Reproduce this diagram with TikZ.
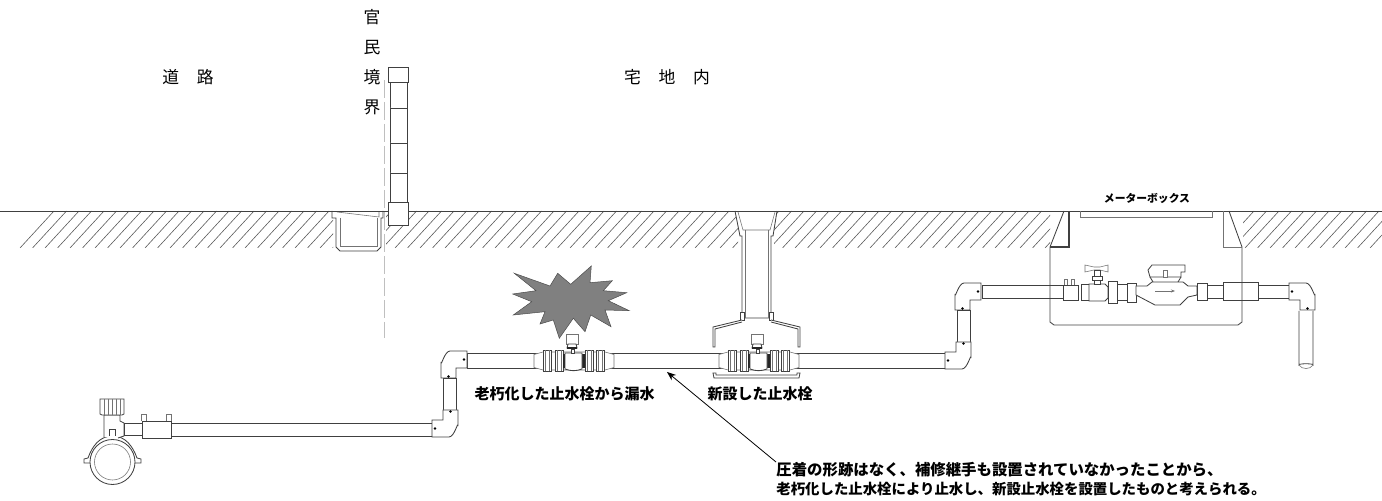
\documentclass[tikz,border=0pt]{standalone}
\usepackage{fontspec}
\setmainfont{Noto Sans CJK JP}
\usepackage{tikz}
\usetikzlibrary{arrows.meta}

\tikzset{
    pipeline/.style={draw=black!75, line width=0.42pt, fill=white},
    thinline/.style={draw=black!55, line width=0.28pt, fill=white},
    hatchline/.style={draw=black!65, line width=0.3pt},
    placelabel/.style={font=\fontsize{8.4}{15}\selectfont, align=center, inner sep=0pt},
    partlabel/.style={font=\fontsize{7.5}{9.5}\selectfont\bfseries, inner sep=0pt},
    elbow/.pic={
        \draw[pipeline] (26,0) -- (9,0) to[out=180,in=-90] (0,11) -- (0,27) -- (15,27) -- (15,17) -- (26,17) -- cycle;
        \fill (23,8.5) circle (1.3);
        \fill (7.5,25.5) circle (1.3);
    },
    stopvalve/.pic={
        % tapered ends and nuts
        \draw[thinline] (-40,-6.5) -- (-31,-9) -- (31,-9) -- (40,-6.5) -- (40,6.5) -- (31,9) -- (-31,9) -- (-40,6.5) -- cycle;
        \foreach \nx in {-31,-19,11,22} {
            \draw[pipeline] (\nx,-10.5) rectangle ++(8,21);
            \draw[thinline] (\nx+2.2,-10.5) -- ++(0,21) (\nx+5.8,-10.5) -- ++(0,21);
        }
        \fill[black!85] (-11,-7) rectangle (-9,7);
        \fill[black!85] (8,-7) rectangle (10.5,7);
        % body
        \draw[pipeline] (-9,-8) -- (8,-8) -- (8,8) to[out=-160,in=-20] (-9,8) -- cycle;
        % head
        \draw[thinline] (-8,-27) rectangle (4,-17);
        \draw[pipeline] (-6,-17) -- (2,-17) -- (3,-13) -- (-7,-13) -- cycle;
        \fill[black!85] (-7,-14) rectangle (3,-12);
        \draw[pipeline] (-3,-12) rectangle (0,-8);
    }
}

\begin{document}
\begin{tikzpicture}[x=0.5pt, y=-0.5pt]
    \useasboundingbox (0,0) rectangle (1382,501);

    % Ground hatching
    \begin{scope}
        \clip (0,211) rectangle (333,248) (386,211) rectangle (738,248)
              (774,211) rectangle (1050,248) (1243,211) rectangle (1382,248);
        \foreach \hx in {20,32.5,...,1382} {
            \draw[hatchline] (\hx,248) -- (\hx+34,211);
        }
    \end{scope}

    % Gutter
    \draw[pipeline] (332,211) -- (332,218) -- (336,218) -- (336,247) -- (340,251) -- (377,251) -- (381,247) -- (381,218) -- (383,218) -- (383,211);
    \draw[thinline] (340,218) -- (340,246) -- (377,246) -- (377,218);
    \draw[thinline] (337,212) -- (379,217) -- (379,212);

    % Valve box shaft
    \draw[pipeline] (735,211) -- (740,236) -- (742,236) -- (742,318) -- (771,318) -- (771,236) -- (773,236) -- (777,211);
    \draw[thinline] (738,212) -- (743,230) -- (770,230) -- (775,212);
    \draw[thinline] (745,230) -- (745,318) (768,230) -- (768,318);
    \draw[pipeline] (740,312) rectangle (744,320);
    \draw[pipeline] (769,312) rectangle (773,320);
    \draw[pipeline] (742,320) -- (713,327) -- (713,347) -- (715,347) -- (715,329) -- (742,322);
    \draw[pipeline] (771,320) -- (800,327) -- (800,347) -- (798,347) -- (798,329) -- (771,322);

    % Ground line
    \draw[pipeline] (0,211) -- (1382,211);

    % Boundary line and post
    \draw[draw=black!25, line width=0.35pt, dash pattern=on 9pt off 2pt] (384,80) -- (384,338);
    \draw[pipeline] (390,82) rectangle (407,202);
    \foreach \py in {108,143,173} {
        \draw[pipeline] (390,\py) -- (407,\py);
    }
    \draw[pipeline] (388,67) rectangle (408,82);
    \draw[pipeline] (388,202) rectangle (408,225);

    % Service pipe
    \draw[pipeline] (170,423) rectangle (432,436);
    \draw[pipeline] (443,378) rectangle (456,410);
    \draw[pipeline] (467,353) rectangle (945,368);
    \draw[pipeline] (957,310) rectangle (970,342);
    \draw[pipeline] (982,285) rectangle (1063,298);
    \draw[pipeline] (1207,285) rectangle (1290,298);

    % Elbows
    \pic at (441,351) {elbow};
    \pic[rotate=180] at (458,437) {elbow};
    \pic at (955,283) {elbow};
    \pic[rotate=180] at (971,369) {elbow};
    \pic[xscale=-1] at (1315,283) {elbow};

    % Outlet stub
    \draw[pipeline] (1299,311) -- (1299,365) to[out=90,in=90,looseness=0.3] (1313,365) -- (1313,311);
    \draw[thinline] (1299,365) to[out=-60,in=-120] (1313,365);
    \draw[pipeline] (1223,282) rectangle (1258,300);

    % Meter box
    \draw[pipeline, fill=none] (1064,211) -- (1050,247) -- (1050,322) -- (1054,325) -- (1238,325) -- (1242,322) -- (1242,247) -- (1229,211);
    \draw[pipeline, fill=none, line width=0.6pt] (1069,211) -- (1069,247) -- (1050,247);
    \draw[thinline, fill=none] (1223,211) -- (1223,247) -- (1242,247);
    \draw[thinline, fill=none] (1080,211) -- (1080,217) -- (1212,217) -- (1212,211);

    % Stop valves
    \pic at (574,361) {stopvalve};
    \pic at (759,361) {stopvalve};
    \draw[pipeline] (713,373) -- (714,378) -- (799,378) -- (800,373) -- (797,373) -- (797,375) -- (716,375) -- (716,373) -- cycle;

    % Leak burst
    \fill[draw=black!70, fill=black!50, line width=0.25pt] (514.3,273.3) -- (550,286) -- (557.7,273.3) -- (570.7,284.3) -- (591.3,266) -- (590,282.7) -- (612.3,280.7) -- (603.3,290.7) -- (626.7,292.7) -- (608.3,300.7) -- (629.3,310.7) -- (605,310) -- (611,326.7) -- (590.7,315) -- (585,331.7) -- (573.3,318.3) -- (559.3,338.3) -- (553.3,320) -- (540,324) -- (545,311.7) -- (513.3,315) -- (531.7,301.7) -- (512.7,294) -- (536,290.7) -- cycle;

    % Saddle
    \draw[pipeline] (84,463) -- (84,459) -- (88,458) to[out=70,in=180] (112.5,436) to[out=0,in=110] (137,458) -- (141,459) -- (141,463) -- (134,463) to[out=110,in=0] (112.5,441) to[out=180,in=70] (91,463) -- cycle;
    \draw[pipeline] (112.5,462) circle (22.5);
    \draw[thinline] (112.5,462) circle (18);
    \draw[pipeline] (104,437) -- (104,415) -- (120,415) -- (120,421) -- (124,423) -- (124,436) -- (118,438);
    \draw[pipeline] (109,436) -- (109,429) -- (115,429) -- (115,436);
    \draw[pipeline] (100,399) -- (124,399) -- (124,414) -- (122,415) -- (102,415) -- (100,414) -- cycle;
    \foreach \kx in {104,108,112,116,120} {
        \draw[thinline] (\kx,399) -- (\kx,415);
    }
    \draw[pipeline] (124,423) rectangle (142,435);
    \draw[thinline] (141,421) -- (141,414) -- (146,414) -- (146,421);
    \draw[thinline] (166,421) -- (166,414) -- (171,414) -- (171,421);
    \draw[pipeline] (142,421) rectangle (171,438);

    % Meter set
    \draw[pipeline] (1063,285) rectangle (1078,300);
    \draw[thinline] (1064,285) -- (1064,279) -- (1067,279) -- (1067,285) (1071,285) -- (1071,279) -- (1074,279) -- (1074,285);
    \draw[pipeline] (1081,284) rectangle (1089,300);
    \draw[pipeline] (1089,284) -- (1105,284) -- (1108,287) -- (1108,298) -- (1105,301) -- (1089,301) -- cycle;
    \draw[thinline] (1085,265) -- (1094,267) -- (1100,267) -- (1108,265) -- (1108,272) -- (1100,270) -- (1094,270) -- (1085,272) -- cycle;
    \draw[pipeline] (1094,270) rectangle (1100,284);
    \draw[pipeline] (1092,276) rectangle (1102,280);
    \draw[pipeline] (1108,281) rectangle (1117,303);
    \draw[pipeline] (1117,284) rectangle (1127,300);
    \draw[pipeline] (1127,283) rectangle (1136,302);
    \draw[pipeline] (1136,286) -- (1147,286) -- (1152,282) -- (1183,282) -- (1188,286) -- (1197,286) -- (1197,295) -- (1188,297) -- (1180,305) -- (1155,305) -- (1136,295) -- cycle;
    \draw[pipeline] (1148,270) -- (1152,265) -- (1185,265) -- (1185,272) -- (1181,272) -- (1181,277) -- (1150,277) -- cycle;
    \draw[pipeline] (1150,277) -- (1153,282) (1181,277) -- (1178,282);
    \draw[thinline] (1163,270) rectangle (1167,277);
    \draw[thinline, -{Stealth[length=2pt]}] (1155,291) -- (1175,291);
    \draw[pipeline] (1197,283) rectangle (1207,300);

    % Place labels
    \node[placelabel] (roadlabel) at (188,77) {道\hspace{1.05em}路};
    \node[placelabel] (boundarylabel) at (372,62) {官\\民\\境\\界};
    \node[placelabel] (landlabel) at (667,77) {宅\hspace{1.05em}地\hspace{1.05em}内};

    % Part labels
    \node[partlabel] (oldlabel) at (564.5,394) {老朽化した止水栓から漏水};
    \node[partlabel] (newlabel) at (760,394) {新設した止水栓};
    \node[partlabel, font=\fontsize{5.4}{7}\selectfont\bfseries] (boxlabel) at (1147,198) {メーターボックス};
    \node[partlabel, anchor=north west, align=left] (notelabel) at (776,462) {\fontsize{7.7}{9.5}\selectfont 圧着の形跡はなく、補修継手も設置されていなかったことから、\\\fontsize{7.2}{9.5}\selectfont 老朽化した止水栓により止水し、新設止水栓を設置したものと考えられる。};

    % Note arrow
    \coordinate (leakpoint) at (667,372);
    \draw[-{Stealth[length=4.5pt,width=3.5pt]}, line width=0.4pt] (notelabel.north west) -- (leakpoint);
\end{tikzpicture}
\end{document}
